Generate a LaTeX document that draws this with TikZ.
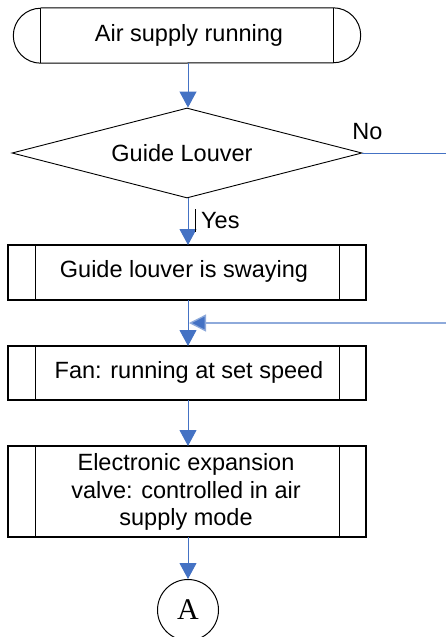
\documentclass[tikz,border=0pt]{standalone}
\usepackage{fontspec}
\setmainfont{Liberation Sans}
\newfontfamily\serifA{Liberation Serif}
\usetikzlibrary{shapes.geometric,arrows.meta}
\definecolor{conn}{HTML}{4472C4}
\definecolor{fbc}{HTML}{8EAADB}
\begin{document}
\begin{tikzpicture}[x=1pt,y=1pt,
  txt/.style={font=\fontsize{23.5}{27.3}\selectfont, align=center, inner sep=0pt},
  procbox/.style={draw, line width=1.1pt, minimum width=358pt, inner sep=0pt},
  conn/.style={draw=conn, line width=1pt, -{Triangle[width=17pt,length=16pt]}},
  fb/.style={draw=fbc, line width=1.3pt, -{Triangle[width=17pt,length=17pt,fill=conn]}}
]
\useasboundingbox (0,0) rectangle (446,-637);

% terminal
\node[minimum width=292pt, minimum height=55pt, inner sep=0pt] (start) at (187,-35.5) {};
\draw[line width=1pt] (start.north west) -- (start.north east)
  arc[start angle=90, end angle=-90, radius=27.5pt] -- (start.south west)
  arc[start angle=270, end angle=90, radius=27.5pt];
\draw[line width=1pt] (start.north west) -- (start.south west) (start.north east) -- (start.south east);
\node[txt] (starttxt) at (189,-35) {Air supply running};

% decision
\node[draw, diamond, line width=0.9pt, minimum width=350pt, minimum height=90pt, inner sep=0pt] (dec) at (187,-153) {};
\node[txt] (dectxt) at (182,-153) {Guide Louver};
\node[txt, anchor=center] (no) at (367.5,-132) {No};
\coordinate (noend) at (446,-153);
\draw[draw=conn, line width=1pt] (dec.east) -- (noend);

% boxes
\node[procbox, minimum height=55pt] (b1) at (187,-272.5) {};
\node[txt] (b1txt) at (184,-271.5) {Guide louver is swaying};
\node[procbox, minimum height=54pt] (b2) at (187,-373) {};
\node[txt] (b2txt) at (189,-372) {Fan: running at set speed};
\node[procbox, minimum height=91pt] (b3) at (187,-491.5) {};
\node[txt] (b3txt) at (186,-492) {Electronic expansion\\valve: controlled in air\\supply mode};
\foreach \n in {b1,b2,b3} {
  \draw[line width=1pt] ([xshift=28pt]\n.north west) -- ([xshift=28pt]\n.south west);
  \draw[line width=1pt] ([xshift=-27pt]\n.north east) -- ([xshift=-27pt]\n.south east);
}

% connector circle
\node[draw, circle, line width=1pt, minimum size=61pt, inner sep=0pt, font=\serifA\fontsize{30}{30}\selectfont] (circA) at (188,-610) {A};

% connectors
\draw[conn] (start.south -| 188,0) -- (dec.north -| 188,0);
\coordinate (decb) at (188,-198);
\coordinate (b1t) at (188,-245);
\draw[conn] (decb) -- (b1t);
\node[txt, anchor=west] (yes) at (201,-221) {Yes};
\draw[line width=1.5pt] (195.5,-209) -- (195.5,-232);
\coordinate (b1b) at (188,-300);
\coordinate (b2t) at (188,-346);
\draw[conn] (b1b) -- (b2t);
\coordinate (fbstart) at (446,-323);
\coordinate (fbend) at (189,-323);
\draw[fb] (fbstart) -- (fbend);
\coordinate (b2b) at (188,-400);
\coordinate (b3t) at (188,-446);
\draw[conn] (b2b) -- (b3t);
\coordinate (b3b) at (188,-537);
\draw[conn] (b3b) -- (circA.north);
\end{tikzpicture}
\end{document}
